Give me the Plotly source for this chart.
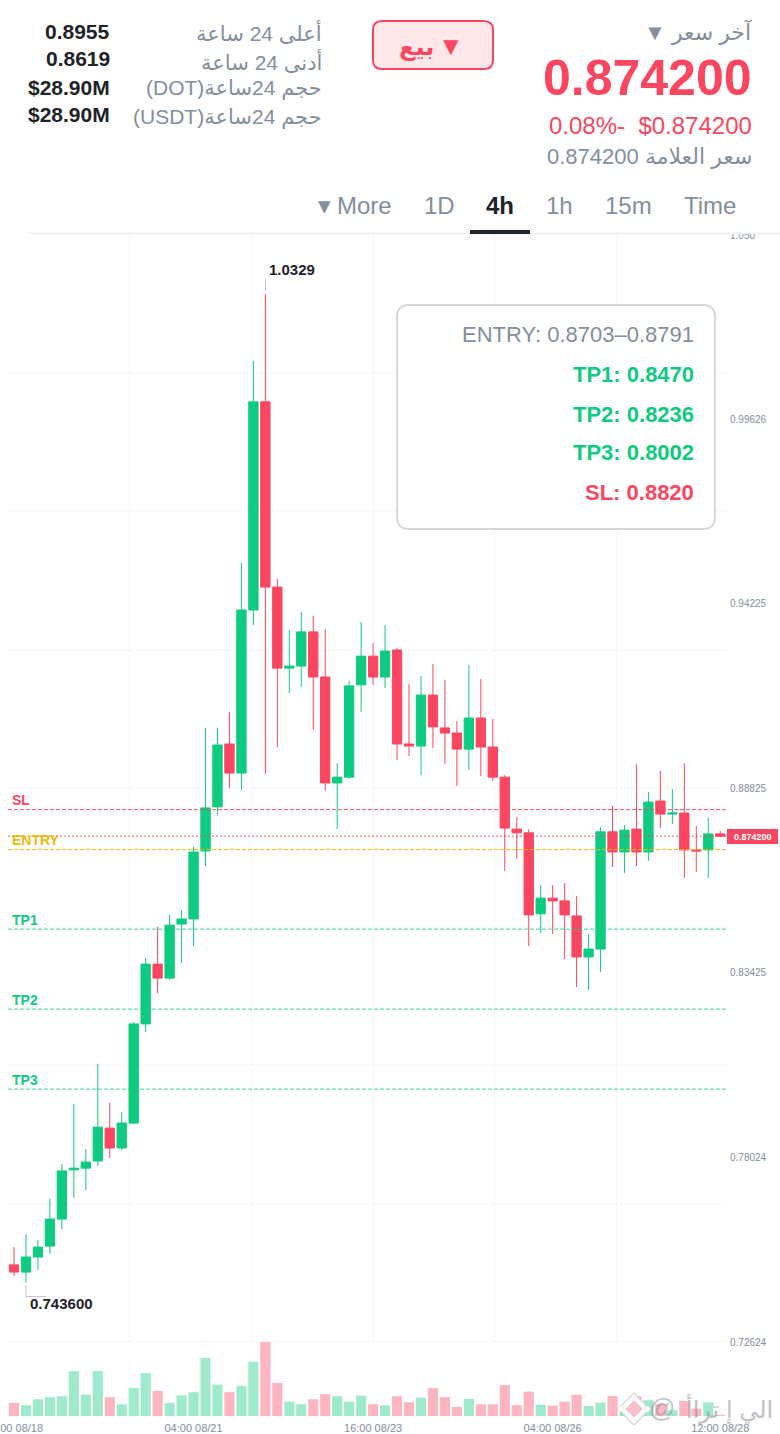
import plotly.graph_objects as go

W, H = 780, 1434

# ---- data -------------------------------------------------------------
opens = [0.7488, 0.7467, 0.7511, 0.7543, 0.7622, 0.7766, 0.7771, 0.7792, 0.7888, 0.7830,
         0.7903, 0.8193, 0.8368, 0.8327, 0.8485, 0.8500, 0.8699, 0.8828, 0.9012, 0.8927,
         0.9404, 1.0013, 0.9471, 0.9234, 0.9240, 0.9340, 0.9208, 0.8898, 0.8915, 0.9185,
         0.9269, 0.9208, 0.9287, 0.9012, 0.9006, 0.9155, 0.9059, 0.9044, 0.8997, 0.9088,
         0.9003, 0.8915, 0.8763, 0.8752, 0.8515, 0.8561, 0.8553, 0.8509, 0.8389, 0.8412,
         0.8755, 0.8696, 0.8763, 0.8696, 0.8845, 0.8807, 0.8810, 0.8702, 0.8702, 0.8749]
closes = [0.7467, 0.7511, 0.7540, 0.7622, 0.7763, 0.7771, 0.7789, 0.7891, 0.7830, 0.7903,
          0.8193, 0.8368, 0.8327, 0.8482, 0.8500, 0.8696, 0.8825, 0.9009, 0.8927, 0.9404,
          1.0013, 0.9471, 0.9234, 0.9240, 0.9340, 0.9208, 0.8898, 0.8915, 0.9182, 0.9269,
          0.9208, 0.9284, 0.9012, 0.9006, 0.9155, 0.9062, 0.9044, 0.8997, 0.9088, 0.9003,
          0.8915, 0.8766, 0.8752, 0.8512, 0.8561, 0.8553, 0.8512, 0.8389, 0.8412, 0.8755,
          0.8696, 0.8760, 0.8696, 0.8842, 0.8807, 0.8810, 0.8702, 0.8699, 0.8749, 0.8742]
highs = [0.7540, 0.7578, 0.7561, 0.7681, 0.7783, 0.7959, 0.7827, 0.8076, 0.7962, 0.7935,
         0.8199, 0.8386, 0.8477, 0.8512, 0.8526, 0.8711, 0.9059, 0.9059, 0.9106, 0.9542,
         1.0133, 1.0329, 0.9495, 0.9346, 0.9398, 0.9386, 0.9348, 0.8956, 0.9196, 0.9369,
         0.9308, 0.9360, 0.9293, 0.9188, 0.9211, 0.9246, 0.9199, 0.9079, 0.9243, 0.9202,
         0.9085, 0.8921, 0.8798, 0.8763, 0.8599, 0.8599, 0.8605, 0.8567, 0.8456, 0.8769,
         0.8831, 0.8775, 0.8953, 0.8872, 0.8933, 0.8880, 0.8956, 0.8772, 0.8796, 0.8757]
lows = [0.7456, 0.7436, 0.7473, 0.7520, 0.7593, 0.7684, 0.7707, 0.7777, 0.7801, 0.7824,
        0.7900, 0.8169, 0.8283, 0.8322, 0.8371, 0.8421, 0.8655, 0.8804, 0.8883, 0.8877,
        0.9360, 0.8924, 0.9003, 0.9161, 0.9179, 0.9053, 0.8875, 0.8763, 0.8910, 0.9106,
        0.9185, 0.9176, 0.8965, 0.8977, 0.8921, 0.9000, 0.8953, 0.8889, 0.8936, 0.8918,
        0.8904, 0.8640, 0.8676, 0.8421, 0.8459, 0.8456, 0.8383, 0.8301, 0.8292, 0.8345,
        0.8652, 0.8635, 0.8655, 0.8670, 0.8766, 0.8778, 0.8620, 0.8638, 0.8620, 0.8740]
volumes = [13.0, 10.7, 16.7, 18.7, 19.7, 44.7, 21.3, 44.7, 18.7, 11.7,
           28.0, 42.7, 25.0, 13.0, 20.7, 23.7, 57.7, 31.3, 23.7, 30.0,
           54.0, 73.7, 33.0, 14.3, 11.7, 16.7, 21.7, 19.7, 14.3, 20.3,
           11.7, 10.7, 19.7, 13.7, 18.3, 27.7, 18.7, 9.0, 17.0, 11.7,
           11.7, 30.7, 10.7, 24.3, 11.3, 10.3, 14.3, 21.0, 10.0, 13.3,
           20.0, 10.0, 19.7, 15.7, 12.0, 5.7, 15.0, 7.3, 13.7, 1.0]

time_tick_index = [0, 15, 30, 45, 59]
time_tick_text = ["16:00 08/18", "04:00 08/21", "16:00 08/23", "04:00 08/26", "12:00 08/28"]
price_tick_vals = [1.050, 0.99626, 0.94225, 0.88825, 0.83425, 0.78024, 0.72624]
price_tick_text = ["1.050", "0.99626", "0.94225", "0.88825", "0.83425", "0.78024", "0.72624"]
grid_index = [-0.5, 9.65, 19.84, 30.03, 40.14, 50.33]
grid_prices = [1.00975, 0.96937, 0.92870, 0.88832, 0.84766, 0.80728, 0.76662, 0.72624]

last_price = 0.8742
sl_level = 0.8820
entry_level = 0.8703
tp_levels = [0.8470, 0.8236, 0.8002]

# ---- style ------------------------------------------------------------
GREEN = "#0ECB81"
RED = "#FB4661"
GRAY = "#848E9C"
DARK = "#1E2329"
ORANGE = "#F0B90B"
FONT = "Liberation Sans, Arimo, Arial, DejaVu Sans, sans-serif"
RTL = lambda s: "\u2067" + s + "\u2069"


def px_x(p):
    return p / W


def px_y(p):
    return 1 - p / H


indices = list(range(len(opens)))
bar_colors = [GREEN if c >= o else RED for o, c in zip(opens, closes)]

fig = go.Figure()
fig.add_trace(go.Candlestick(
    x=indices, open=opens, high=highs, low=lows, close=closes,
    increasing=dict(line=dict(color=GREEN, width=1), fillcolor=GREEN),
    decreasing=dict(line=dict(color=RED, width=1), fillcolor=RED),
    whiskerwidth=0, xaxis="x", yaxis="y", showlegend=False,
))
fig.add_trace(go.Bar(
    x=indices, y=volumes, width=0.85,
    marker=dict(color=bar_colors, opacity=0.4, line=dict(width=0)),
    xaxis="x2", yaxis="y2", showlegend=False,
))

shapes = []


def level(y, color, dash, width=1, opacity=1.0):
    shapes.append(dict(type="line", xref="x domain", yref="y", x0=0, x1=1, y0=y, y1=y,
                       line=dict(color=color, dash=dash, width=width), opacity=opacity,
                       layer="above"))


def rect_px(x0, y0, x1, y1, fill, line_color=None, line_width=0):
    shapes.append(dict(type="rect", xref="paper", yref="paper",
                       x0=px_x(x0), x1=px_x(x1), y0=px_y(y0), y1=px_y(y1),
                       fillcolor=fill, line=dict(color=line_color or fill, width=line_width),
                       layer="above"))


def pt(a, b):
    return f"{px_x(a):.5f},{px_y(b):.5f}"


def round_rect_px(x0, y0, x1, y1, r, fill, line_color, line_width):
    path = (f"M {pt(x0 + r, y0)} L {pt(x1 - r, y0)} Q {pt(x1, y0)} {pt(x1, y0 + r)} "
            f"L {pt(x1, y1 - r)} Q {pt(x1, y1)} {pt(x1 - r, y1)} "
            f"L {pt(x0 + r, y1)} Q {pt(x0, y1)} {pt(x0, y1 - r)} "
            f"L {pt(x0, y0 + r)} Q {pt(x0, y0)} {pt(x0 + r, y0)} Z")
    shapes.append(dict(type="path", xref="paper", yref="paper", path=path, fillcolor=fill,
                       line=dict(color=line_color, width=line_width), layer="above"))


def diamond_px(cx, cy, r, fill, line_color, line_width=1):
    path = f"M {pt(cx, cy - r)} L {pt(cx + r, cy)} L {pt(cx, cy + r)} L {pt(cx - r, cy)} Z"
    shapes.append(dict(type="path", xref="paper", yref="paper", path=path, fillcolor=fill,
                       line=dict(color=line_color, width=line_width), layer="above"))


def line_px(x0, y0, x1, y1, color, width=1):
    shapes.append(dict(type="line", xref="paper", yref="paper",
                       x0=px_x(x0), x1=px_x(x1), y0=px_y(y0), y1=px_y(y1),
                       line=dict(color=color, width=width), layer="above"))


level(sl_level, RED, "4px,2px", 1, 0.9)
level(last_price, RED, "2px,2px", 1.6, 0.6)
level(entry_level, ORANGE, "4px,2px", 1, 0.95)
for tp in tp_levels:
    level(tp, GREEN, "4px,2px", 1.4, 0.55)

# header cover, tab border and tab marker
rect_px(0, 0, W, 234, "#FFFFFF")
line_px(28, 233.5, W, 233.5, "#EEEFF1", 2)
line_px(470, 232, 530, 232, DARK, 4)
# sell button, info box, price tag, extreme markers
round_rect_px(373, 21, 493, 69, 9, "#FFE6E9", RED, 2)
round_rect_px(397, 305, 715, 529, 12, "rgba(255,255,255,0.92)", "#D5D8DC", 2)
rect_px(727, 829, 778, 844, RED)
line_px(265.5, 279, 265.5, 291, "#C4C8CE", 1)
line_px(26, 1285, 26, 1297, "#C4C8CE", 1)
line_px(26, 1296.5, 46, 1296.5, "#C4C8CE", 1)
# watermark logo
diamond_px(634, 1409, 16, "rgba(255,255,255,0.85)", "rgba(190,190,195,0.55)", 1.5)
diamond_px(634, 1409, 8, "rgba(251,150,165,0.55)", "rgba(170,170,175,0.5)", 1)
diamond_px(620.5, 1409, 3.5, "rgba(255,255,255,0.95)", "rgba(190,190,195,0.4)", 0.5)
diamond_px(647.5, 1409, 3.5, "rgba(255,255,255,0.95)", "rgba(190,190,195,0.4)", 0.5)

annotations = []


def text(x, y, s, size, color, anchor="right", bold=False, opacity=1.0):
    annotations.append(dict(
        xref="paper", yref="paper", x=px_x(x), y=px_y(y), text=f"<b>{s}</b>" if bold else s,
        showarrow=False, xanchor=anchor, yanchor="middle", opacity=opacity,
        font=dict(family=FONT, size=size, color=color), borderpad=0, borderwidth=0,
    ))


text(752, 32, RTL("آخر سعر ▼"), 22, GRAY)
text(752, 78, "0.874200", 50, RED, bold=True)
text(752, 126, "0.08%-\u00a0\u00a0$0.874200", 24, RED)
text(752, 157, RTL("سعر العلامة 0.874200"), 22, GRAY)
text(416, 47, "بيع", 24, RED, "center", bold=True)
text(451, 46, "▼", 26, RED, "center")

high_low_labels = ["أعلى 24 ساعة", "أدنى 24 ساعة", "حجم 24ساعة(DOT)", "حجم 24ساعة(USDT)"]
high_low_values = ["0.8955", "0.8619", "$28.90M", "$28.90M"]
for y, label, val in zip([33, 61, 89, 117], high_low_labels, high_low_values):
    text(322, y, RTL(label), 21, GRAY)
    text(110, y - 2, val, 21, DARK, bold=True)

for cx, label in [(710, "Time"), (628, "15m"), (559, "1h"), (439, "1D"), (364, "More")]:
    text(cx, 206, label, 24, GRAY, "center")
text(500, 206, "4h", 24, DARK, "center", bold=True)
text(324, 205, "▾", 25, GRAY, "center")

text(694, 334.5, "ENTRY: 0.8703–0.8791", 22, GRAY)
text(694, 374.5, "TP1: 0.8470", 22, GREEN, bold=True)
text(694, 414, "TP2: 0.8236", 22, GREEN, bold=True)
text(694, 452, "TP3: 0.8002", 22, GREEN, bold=True)
text(694, 492, "SL: 0.8820", 22, RED, bold=True)

text(269, 269.5, "1.0329", 15, DARK, "left", bold=True)
text(30, 1303.5, "0.743600", 15, DARK, "left", bold=True)

text(12, 800, "SL", 14, RED, "left", bold=True)
text(12, 840, "ENTRY", 14, ORANGE, "left", bold=True)
text(12, 920, "TP1", 14, GREEN, "left", bold=True)
text(12, 1000, "TP2", 14, GREEN, "left", bold=True)
text(12, 1080, "TP3", 14, GREEN, "left", bold=True)

text(752.5, 836.5, "0.874200", 9, "#FFFFFF", "center", bold=True)
text(773, 1409, RTL("الي إ تراأ"), 24, "#8A8F98", "right", opacity=0.55)
text(662, 1408, "@", 26, "#8A8F98", "center", opacity=0.55)

axis_font = dict(family=FONT, size=10, color=GRAY)
time_font = dict(family=FONT, size=11, color=GRAY)
x_range = [-0.5013, 59.565]
fig.update_layout(
    width=W, height=H, margin=dict(l=0, r=0, t=0, b=0, autoexpand=False),
    paper_bgcolor="#FFFFFF", plot_bgcolor="#FFFFFF", showlegend=False,
    boxgap=0.22, boxgroupgap=0,
    xaxis=dict(domain=[px_x(8), px_x(727)], range=x_range, anchor="y", showticklabels=False,
               rangeslider=dict(visible=False), tickmode="array", tickvals=grid_index,
               showgrid=True, gridcolor="#F5F6F7", gridwidth=1, zeroline=False, ticks="",
               showline=False),
    yaxis=dict(domain=[px_y(1342), px_y(234)], range=[0.72624, 1.05041], side="right", anchor="x",
               tickmode="array", tickvals=price_tick_vals, ticktext=price_tick_text,
               tickfont=axis_font, showgrid=False, zeroline=False, ticks="", showline=False,
               ticklabelstandoff=2),
    xaxis2=dict(domain=[px_x(8), px_x(727)], range=x_range, anchor="y2", tickmode="array",
                tickvals=time_tick_index, ticktext=time_tick_text, tickfont=time_font,
                showgrid=False, zeroline=False, ticks="", showline=False,
                ticklabeloverflow="allow", ticklabelstandoff=4),
    yaxis2=dict(domain=[px_y(1416), px_y(1342)], range=[0, 73.7], anchor="x2", side="right",
                showticklabels=False, showgrid=False, zeroline=False, ticks="", showline=False),
    shapes=shapes, annotations=annotations,
)
# horizontal grid lines drawn from the price levels, underneath the candles
for g in grid_prices:
    fig.add_shape(type="line", xref="x domain", yref="y", x0=0, x1=1, y0=g, y1=g,
                  line=dict(color="#F5F6F7", width=1.5 if g == grid_prices[-1] else 1),
                  layer="below")

fig.write_html("out.html", config={"displayModeBar": False},
               post_script="document.body.style.margin='0';document.body.style.overflow='hidden';")
